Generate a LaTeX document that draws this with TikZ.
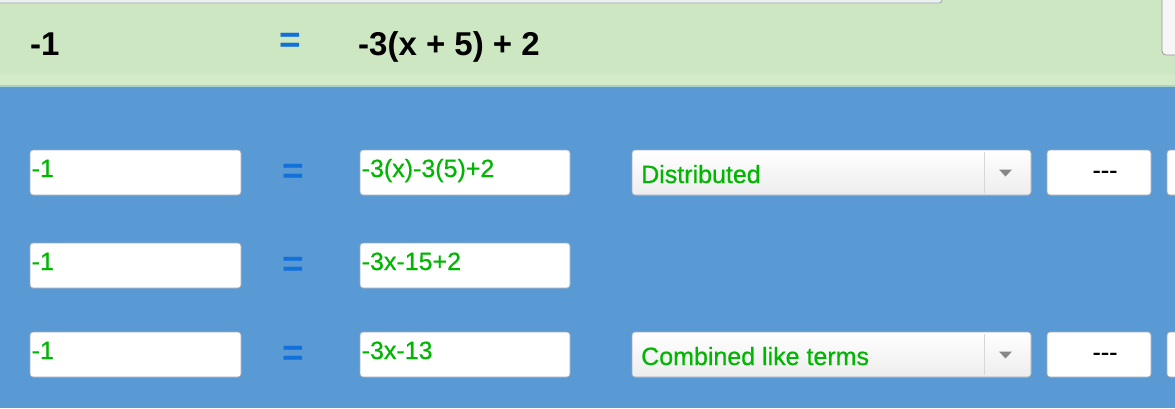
\documentclass[tikz,border=0pt]{standalone}
\usepackage{fontspec}
\setmainfont{Liberation Sans}
\newfontfamily\medfont[FakeBold=0.6]{Liberation Sans}
\usetikzlibrary{calc}
\definecolor{bandgreen}{RGB}{205,231,194}
\definecolor{bandlight}{RGB}{212,235,202}
\definecolor{bandline}{RGB}{165,212,205}
\definecolor{bgblue}{RGB}{90,154,212}
\definecolor{eqblue}{RGB}{18,112,218}
\definecolor{txtgreen}{RGB}{0,182,0}
\definecolor{boxedge}{RGB}{160,170,182}
\definecolor{sepgray}{RGB}{215,215,215}
\definecolor{arrgray}{RGB}{135,135,135}
\begin{document}
\begin{tikzpicture}[x=1pt,y=-1pt,
  field/.style={draw=boxedge, line width=0.7pt, fill=white, rounded corners=3pt,
    minimum height=45pt, inner sep=0pt, outer sep=0pt},
  lbox/.style={field, minimum width=211pt},
  rbox/.style={field, minimum width=210pt},
  dbox/.style={field, minimum width=399pt, top color=white, bottom color=black!7, draw=boxedge},
  sbox/.style={field, minimum width=104pt},
  cbox/.style={field, minimum width=40pt},
  gtext/.style={inner sep=0pt, anchor=base west, text=txtgreen, font=\medfont\fontsize{25}{30}\selectfont},
  htext/.style={inner sep=0pt, anchor=base west, text=black, font=\fontsize{33}{38}\selectfont\bfseries},
  eqsign/.style={inner sep=0pt, anchor=center, text=eqblue, font=\fontsize{37}{44}\selectfont\bfseries},
  dashtext/.style={inner sep=0pt, anchor=base, text=black, font=\medfont\fontsize{25}{30}\selectfont},
]
\useasboundingbox (0,0) rectangle (1175,408);
% backgrounds
\fill[bgblue] (0,87) rectangle (1175,408);
\fill[bandgreen] (0,0) rectangle (1175,87);
\fill[bandlight] (0,74) rectangle (1175,85);
\draw[bandline, line width=1.2pt] (0,86) -- (1175,86);
% top partial boxes
\draw[draw={rgb,255:red,160;green,165;blue,165}, fill={rgb,255:red,234;green,241;blue,240}, line width=0.8pt, rounded corners=3pt]
  (-10,-10) rectangle (942,3);
\draw[draw={rgb,255:red,150;green,150;blue,150}, fill={rgb,255:red,246;green,246;blue,246}, line width=0.8pt, rounded corners=4pt]
  (1162,-10) rectangle (1195,55);
% header row
\node[htext] (hl) at (30,55) {-1};
\node[eqsign] (heq) at (290,43) {=};
\node[htext] (hr) at (358,55) {-3(x + 5) + 2};

% row boxes
\foreach \r/\y in {1/172.5, 2/265.5, 3/354.5}{
  \node[lbox] (L\r) at (135.5,\y) {};
  \node[rbox] (R\r) at (465,\y) {};
  \node[eqsign] (E\r) at (293,\y+1) {=};
}
% dropdowns and small boxes for rows 1 and 3
\foreach \r/\y in {1/172.5, 3/354.5}{
  \node[dbox] (D\r) at (831.5,\y) {};
  \draw[sepgray, line width=1pt] ($(D\r.north west)+(352,2)$) -- ($(D\r.south west)+(352,-2)$);
  \fill[arrgray] ($(D\r.east)+(-32,-3)$) -- ($(D\r.east)+(-19,-3)$) -- ($(D\r.east)+(-25.5,4)$) -- cycle;
  \node[sbox] (S\r) at (1099,\y) {};
  \node[dashtext] (T\r) at ($(S\r.center)+(6,6)$) {-{}-{}-};
  \node[cbox] (C\r) at (1187,\y) {};
}
% texts in fields
\node[gtext] (l1) at ($(L1.north west)+(1.5,27)$) {-1};
\node[gtext] (r1) at ($(R1.north west)+(1.5,27)$) {-3(x)-3(5)+2};
\node[gtext] (l2) at ($(L2.north west)+(1.5,27)$) {-1};
\node[gtext] (r2) at ($(R2.north west)+(1.5,27)$) {-3x-15+2};
\node[gtext] (l3) at ($(L3.north west)+(1.5,27)$) {-1};
\node[gtext] (r3) at ($(R3.north west)+(1.5,27)$) {-3x-13};
\node[gtext] (d1) at ($(D1.north west)+(9,33)$) {Distributed};
\node[gtext] (d3) at ($(D3.north west)+(9,33)$) {Combined like terms};
\end{tikzpicture}
\end{document}
